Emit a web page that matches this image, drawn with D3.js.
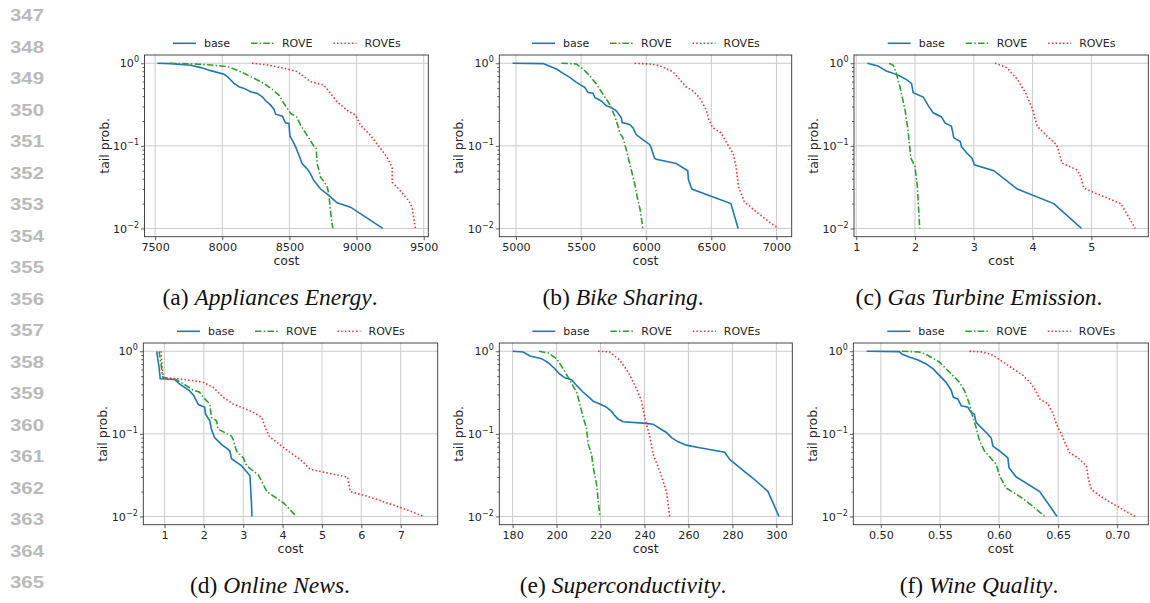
<!DOCTYPE html>
<html>
<head>
<meta charset="utf-8">
<script src="https://cdn.jsdelivr.net/npm/d3@7"></script>
<style>
  body { margin: 0; background: #fff; }
  svg { display: block; }
  .tick text { font-family: 'DejaVu Sans', sans-serif; fill: #262626; }
</style>
</head>
<body>
<div class="canvas"></div>
<script>
// Series: [cost, tail prob.]
const applianceBase = [[7517,1],[7616,0.991],[7765,0.945],[7840,0.886],[7914,0.814],[8013,0.735],[8038,0.688],[8063,0.627],[8087,0.571],[8124,0.52],[8162,0.496],[8211,0.452],[8261,0.431],[8298,0.393],[8323,0.351],[8360,0.311],[8385,0.278],[8397,0.242],[8447,0.229],[8471,0.19],[8496,0.187],[8504,0.131],[8521,0.117],[8546,0.097],[8571,0.077],[8595,0.0608],[8632,0.0527],[8657,0.0459],[8682,0.038],[8732,0.03],[8793,0.0251],[8855,0.0204],[8955,0.0181],[9195,0.01]]
const applianceRove = [[7609,1],[7790,0.981],[7914,0.954],[8038,0.911],[8087,0.853],[8162,0.756],[8236,0.657],[8310,0.571],[8372,0.482],[8422,0.412],[8459,0.326],[8509,0.247],[8553,0.224],[8583,0.178],[8632,0.134],[8682,0.099],[8699,0.093],[8707,0.0608],[8732,0.0418],[8781,0.0324],[8793,0.0262],[8811,0.0136],[8823,0.01]]
const applianceRoves = [[8221,1],[8335,0.954],[8459,0.87],[8558,0.792],[8657,0.598],[8756,0.545],[8806,0.431],[8855,0.341],[8930,0.27],[8992,0.235],[9029,0.178],[9103,0.134],[9178,0.093],[9227,0.073],[9265,0.0552],[9265,0.0363],[9314,0.03],[9388,0.0217],[9413,0.0181],[9438,0.01]]

const bikeBase = [[4974,1],[5209,0.991],[5260,0.919],[5311,0.853],[5362,0.755],[5413,0.675],[5464,0.586],[5528,0.51],[5554,0.443],[5592,0.435],[5605,0.385],[5656,0.35],[5694,0.305],[5732,0.291],[5770,0.265],[5809,0.219],[5816,0.191],[5872,0.182],[5898,0.166],[5923,0.137],[5974,0.119],[6026,0.104],[6038,0.095],[6064,0.071],[6077,0.069],[6230,0.061],[6319,0.05],[6324,0.039],[6350,0.03],[6650,0.02],[6706,0.01]]
const bikeRove = [[5349,1],[5464,0.981],[5515,0.853],[5566,0.707],[5617,0.56],[5668,0.423],[5719,0.319],[5758,0.23],[5783,0.174],[5796,0.144],[5821,0.125],[5847,0.09],[5872,0.062],[5911,0.035],[5936,0.022],[5954,0.0167],[5974,0.01]]
const bikeRoves = [[5911,1],[6026,0.981],[6102,0.937],[6204,0.791],[6255,0.644],[6306,0.519],[6357,0.464],[6408,0.385],[6459,0.277],[6480,0.209],[6510,0.166],[6574,0.144],[6625,0.104],[6668,0.08],[6689,0.057],[6709,0.032],[6753,0.021],[6842,0.016],[6944,0.012],[7015,0.01]]

const turbineBase = [[1.19,1],[1.37,0.928],[1.51,0.807],[1.6,0.77],[1.74,0.701],[1.85,0.639],[1.94,0.571],[1.97,0.44],[2.14,0.389],[2.23,0.303],[2.31,0.251],[2.45,0.224],[2.51,0.19],[2.62,0.172],[2.66,0.125],[2.77,0.113],[2.79,0.098],[2.88,0.082],[2.97,0.071],[3.01,0.059],[3.34,0.05],[3.74,0.03],[4.36,0.02],[4.83,0.01]]
const turbineRove = [[1.56,1],[1.63,0.945],[1.68,0.77],[1.74,0.53],[1.83,0.275],[1.88,0.157],[1.93,0.071],[2.0,0.056],[2.04,0.032],[2.08,0.01]]
const turbineRoves = [[3.36,1],[3.56,0.886],[3.74,0.639],[3.88,0.44],[4.0,0.275],[4.08,0.172],[4.25,0.13],[4.41,0.103],[4.5,0.062],[4.76,0.051],[4.82,0.042],[4.87,0.031],[5.05,0.027],[5.5,0.02],[5.73,0.0105],[5.74,0.01]]

const newsBase = [[0.8,1],[0.86,0.644],[0.89,0.464],[1.25,0.456],[1.38,0.403],[1.63,0.334],[1.74,0.291],[1.86,0.226],[2.02,0.21],[2.04,0.174],[2.15,0.144],[2.19,0.114],[2.27,0.09],[2.44,0.075],[2.57,0.067],[2.66,0.062],[2.7,0.05],[2.96,0.041],[3.17,0.031],[3.21,0.014],[3.22,0.01]]
const newsRove = [[0.86,1],[0.91,0.707],[0.95,0.486],[1.29,0.456],[1.55,0.385],[1.72,0.34],[1.89,0.319],[2.02,0.265],[2.15,0.23],[2.19,0.158],[2.32,0.144],[2.36,0.114],[2.7,0.094],[2.74,0.086],[2.83,0.062],[3.0,0.051],[3.09,0.041],[3.38,0.032],[3.6,0.02],[4.03,0.0145],[4.35,0.01]]
const newsRoves = [[0.91,1],[0.93,0.707],[0.97,0.473],[1.38,0.464],[1.97,0.423],[2.23,0.367],[2.49,0.277],[2.74,0.23],[3.0,0.205],[3.26,0.182],[3.47,0.158],[3.56,0.119],[3.67,0.092],[3.98,0.071],[4.2,0.059],[4.45,0.049],[4.71,0.037],[5.22,0.033],[5.65,0.03],[5.72,0.02],[6.16,0.0175],[7.02,0.0127],[7.6,0.01]]

const superBase = [[180,1],[184.8,0.981],[187.9,0.877],[193.2,0.814],[196.2,0.727],[199.2,0.615],[201.2,0.534],[203.8,0.477],[206.8,0.451],[209.1,0.385],[212.1,0.319],[215.1,0.272],[216.7,0.248],[219.7,0.23],[222.7,0.21],[225,0.187],[226.5,0.166],[228,0.151],[230.3,0.14],[239.4,0.135],[243.9,0.131],[247,0.116],[250,0.104],[252.3,0.09],[255.3,0.08],[259.1,0.073],[265.1,0.068],[276.5,0.06],[278.8,0.049],[283.3,0.039],[289.4,0.029],[296.2,0.02],[301.2,0.01]]
const superRove = [[192,1],[196.2,0.954],[200,0.814],[203,0.615],[206.1,0.443],[209.1,0.319],[210.6,0.23],[212.1,0.158],[213.6,0.119],[214.4,0.075],[215.9,0.057],[216.7,0.039],[218.2,0.0245],[219.7,0.01]]
const superRoves = [[218.9,1],[224.2,0.981],[228.8,0.777],[232.6,0.56],[236.4,0.35],[238.6,0.253],[240.1,0.158],[242.4,0.094],[243.9,0.057],[247,0.035],[250,0.02],[251.5,0.01]]

const wineBase = [[0.488,1],[0.5156,0.991],[0.518,0.919],[0.524,0.853],[0.531,0.791],[0.538,0.707],[0.544,0.615],[0.5495,0.51],[0.555,0.423],[0.5594,0.34],[0.5614,0.277],[0.565,0.265],[0.568,0.219],[0.5736,0.21],[0.5764,0.182],[0.579,0.174],[0.5807,0.137],[0.585,0.119],[0.5906,0.099],[0.5934,0.089],[0.5948,0.071],[0.6005,0.062],[0.6075,0.051],[0.6084,0.039],[0.6146,0.03],[0.6344,0.02],[0.6491,0.01]]
const wineRove = [[0.5178,1],[0.5325,0.981],[0.5396,0.894],[0.5495,0.741],[0.555,0.615],[0.5608,0.51],[0.5665,0.423],[0.5707,0.334],[0.575,0.23],[0.5778,0.158],[0.5807,0.119],[0.5835,0.082],[0.5877,0.062],[0.5976,0.043],[0.6005,0.031],[0.6061,0.022],[0.6175,0.0175],[0.6288,0.0132],[0.6387,0.01]]
const wineRoves = [[0.575,1],[0.5863,0.981],[0.5948,0.894],[0.6033,0.741],[0.6118,0.615],[0.6203,0.51],[0.626,0.423],[0.6302,0.35],[0.6344,0.265],[0.6415,0.23],[0.6458,0.174],[0.6486,0.131],[0.6528,0.099],[0.6571,0.071],[0.6599,0.059],[0.667,0.051],[0.674,0.041],[0.6755,0.029],[0.6783,0.021],[0.6882,0.0167],[0.7024,0.0127],[0.715,0.01]]

// Tick labels
const applianceTicks = [7500, 8000, 8500, 9000, 9500]
const bikeTicks = [5000, 5500, 6000, 6500, 7000]
const turbineTicks = [1, 2, 3, 4, 5]
const newsTicks = [1, 2, 3, 4, 5, 6, 7]
const superTicks = [180, 200, 220, 240, 260, 280, 300]
const wineTicks = [0.50, 0.55, 0.60, 0.65, 0.70]
const yTicks = [1, 0.1, 0.01]

const seriesNames = ['base', 'ROVE', 'ROVEs']
const panelLetters = ['a', 'b', 'c', 'd', 'e', 'f']
const panelTitles = ['Appliances Energy', 'Bike Sharing', 'Gas Turbine Emission', 'Online News', 'Superconductivity', 'Wine Quality']

const panels = [
  { series: [applianceBase, applianceRove, applianceRoves], ticks: applianceTicks, fmt: d3.format('d') },
  { series: [bikeBase, bikeRove, bikeRoves], ticks: bikeTicks, fmt: d3.format('d') },
  { series: [turbineBase, turbineRove, turbineRoves], ticks: turbineTicks, fmt: d3.format('d') },
  { series: [newsBase, newsRove, newsRoves], ticks: newsTicks, fmt: d3.format('d') },
  { series: [superBase, superRove, superRoves], ticks: superTicks, fmt: d3.format('d') },
  { series: [wineBase, wineRove, wineRoves], ticks: wineTicks, fmt: d3.format('.2f') }
]

// Layout (pixel boxes of each axes, caption centres per column)
const boxes = [
  { left: 144.5, right: 428.3, top: 55, bottom: 236.7 },
  { left: 499.3, right: 791.7, top: 55, bottom: 236.7 },
  { left: 854, right: 1148.3, top: 55, bottom: 236.7 },
  { left: 143.3, right: 437.7, top: 343, bottom: 524.7 },
  { left: 499.3, right: 792.3, top: 343, bottom: 524.7 },
  { left: 853.3, right: 1148.3, top: 343, bottom: 524.7 }
]
const captionX = [270, 623, 979]
const colors = ['#1f77b4', '#2ca02c', '#f03030']
const dashes = [null, '6.5,2.2,1.5,2.2', '1.5,2.2']

const svg = d3
  .select('.canvas')
  .append('svg')
  .attr('width', 1150)
  .attr('height', 603)

// line numbers on the page margin
const lineNums = d3.range(347, 366)
svg
  .append('g')
  .selectAll('text')
  .data(lineNums)
  .enter()
  .append('text')
  .attr('x', 10)
  .attr('y', (d, i) => 21 + i * 31.5)
  .attr('textLength', 34)
  .attr('lengthAdjust', 'spacingAndGlyphs')
  .attr('font-family', 'Liberation Sans, sans-serif')
  .attr('font-weight', 'bold')
  .attr('font-size', 17)
  .attr('fill', '#bababa')
  .text(d => d)

const minorTicks = []
;[0.01, 0.1].forEach(dec => d3.range(2, 10).forEach(k => minorTicks.push(dec * k)))

const line = d3.line()

panels.forEach((p, i) => {
  const b = boxes[i]
  const w = b.right - b.left
  const h = b.bottom - b.top
  const g = svg.append('g').attr('transform', `translate(${b.left},${b.top})`)

  // matplotlib-style 5% margins
  const all = p.series.flat()
  const [xmin, xmax] = d3.extent(all, d => d[0])
  const pad = (xmax - xmin) * 0.05
  const x = d3.scaleLinear().domain([xmin - pad, xmax + pad]).range([0, w])
  const y = d3.scaleLog().domain([Math.pow(10, -2.1), Math.pow(10, 0.1)]).range([h, 0])

  // grid
  g.append('g')
    .selectAll('line')
    .data(p.ticks)
    .enter()
    .append('line')
    .attr('x1', d => x(d)).attr('x2', d => x(d))
    .attr('y1', 0).attr('y2', h)
    .attr('stroke', '#cbcbcb').attr('stroke-width', 1)
  g.append('g')
    .selectAll('line')
    .data(yTicks)
    .enter()
    .append('line')
    .attr('x1', 0).attr('x2', w)
    .attr('y1', d => y(d)).attr('y2', d => y(d))
    .attr('stroke', '#cbcbcb').attr('stroke-width', 1)

  // curves
  line.x(d => x(d[0])).y(d => y(d[1]))
  p.series.forEach((s, k) => {
    g.append('path')
      .datum(s)
      .attr('fill', 'none')
      .attr('stroke', colors[k])
      .attr('stroke-width', 1.6)
      .attr('stroke-dasharray', dashes[k])
      .attr('d', line)
  })

  // frame
  g.append('rect')
    .attr('width', w).attr('height', h)
    .attr('fill', 'none').attr('stroke', '#333').attr('stroke-width', 0.9)

  // axes
  const xAxis = d3.axisBottom(x).tickValues(p.ticks).tickFormat(p.fmt).tickSize(3.5).tickPadding(3)
  const xg = g.append('g').attr('transform', `translate(0,${h})`).call(xAxis)
  const yAxis = d3.axisLeft(y).tickValues(yTicks).tickSize(3.5).tickPadding(2)
  const yg = g.append('g').call(yAxis)
  const ymg = g.append('g').call(d3.axisLeft(y).tickValues(minorTicks).tickSize(2).tickFormat(''))
  ;[xg, yg, ymg].forEach(a => {
    a.select('.domain').remove()
    a.selectAll('.tick line').attr('stroke', '#333').attr('stroke-width', 0.8)
  })
  xg.selectAll('.tick text').attr('font-size', 11.2).attr('font-family', 'DejaVu Sans')
  yg.selectAll('.tick text')
    .attr('font-size', 11.2)
    .attr('font-family', 'DejaVu Sans')
    .text(null)
    .each(function(d) {
      const t = d3.select(this)
      const e = Math.round(Math.log10(d))
      t.append('tspan').text('10')
      t.append('tspan').attr('dy', -5).attr('font-size', 8).text(e === 0 ? '0' : '\u2212' + Math.abs(e))
    })

  // axis labels
  g.append('text')
    .attr('x', w / 2).attr('y', h + 28.5)
    .attr('text-anchor', 'middle')
    .attr('font-family', 'DejaVu Sans').attr('font-size', 12.5).attr('fill', '#262626')
    .text('cost')
  g.append('text')
    .attr('transform', `translate(-36,${h / 2}) rotate(-90)`)
    .attr('text-anchor', 'middle')
    .attr('font-family', 'DejaVu Sans').attr('font-size', 12.5).attr('fill', '#262626')
    .text('tail prob.')

  // legend
  const legend = g.append('g').attr('transform', `translate(${w / 2},-11.7)`)
  const offsets = [-113.5, -35.5, 47]
  seriesNames.forEach((name, k) => {
    legend.append('line')
      .attr('x1', offsets[k]).attr('x2', offsets[k] + 23)
      .attr('stroke', colors[k]).attr('stroke-width', 1.6)
      .attr('stroke-dasharray', dashes[k])
    legend.append('text')
      .attr('x', offsets[k] + 31).attr('y', 4)
      .attr('font-family', 'DejaVu Sans').attr('font-size', 11).attr('fill', '#262626')
      .text(name)
  })

  // caption
  const cap = svg.append('text')
    .attr('x', captionX[i % 3])
    .attr('y', b.top + 250)
    .attr('text-anchor', 'middle')
    .attr('font-family', 'Liberation Serif, serif')
    .attr('font-size', 23.5)
    .attr('fill', '#111')
  cap.append('tspan').text(`(${panelLetters[i]}) `)
  cap.append('tspan').attr('font-style', 'italic').text(panelTitles[i])
  cap.append('tspan').text('.')
})
</script>
</body>
</html>
